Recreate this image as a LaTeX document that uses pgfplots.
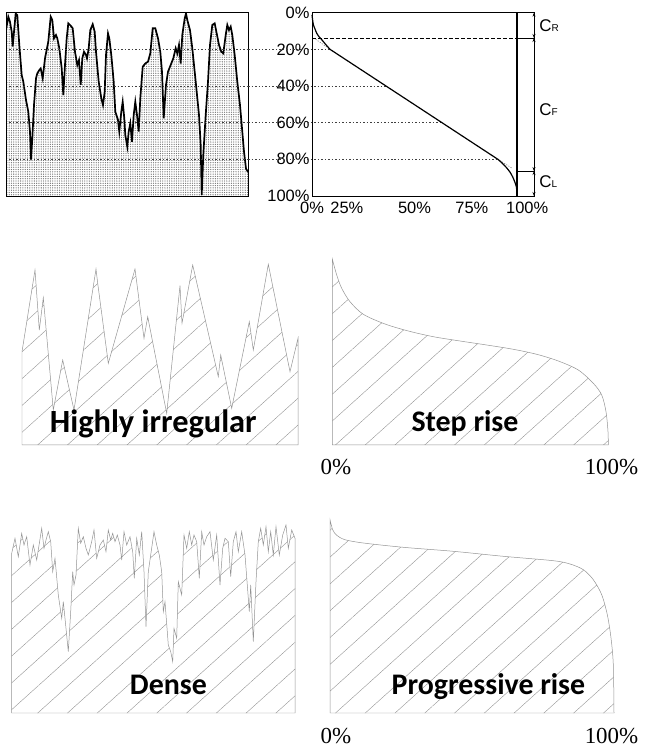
\documentclass[border=0pt]{standalone}
\usepackage{fontspec}
\newfontfamily\arialf{Liberation Sans}
\newfontfamily\calibrif{Carlito}
\newfontfamily\timesf{Liberation Serif}
\usepackage{pgfplots}
\pgfplotsset{compat=1.18}
\usetikzlibrary{patterns.meta,arrows.meta}

\pgfplotsset{
  panel/.style={scale only axis, axis lines=none, clip=false},
  hatch/.style={draw=gray!85, line width=0.5pt,
    pattern={Lines[angle=42,distance=20pt,line width=0.4pt]}, pattern color=gray!85},
}
\tikzset{
  big/.style={font=\calibrif\bfseries\fontsize{30}{36}\selectfont, anchor=base},
  pct/.style={font=\timesf\fontsize{23}{26}\selectfont, anchor=base},
}

\begin{document}
\begin{tikzpicture}
\useasboundingbox (0,0) rectangle (648bp,747bp);

% ---- top left: load profile
\begin{axis}[scale only axis, at={(6bp,551bp)}, width=242bp, height=183.3bp,
  xmin=6, xmax=248, ymin=0, ymax=100, axis on top,
  axis line style={line width=0.9pt},
  xtick=\empty, ytick={20,40,60,80}, yticklabels={}, major tick length=0pt,
  ymajorgrids, grid style={black!75, line width=0.8pt, dash pattern=on 1.5pt off 2pt}]
\addplot[draw=none, pattern={Dots[distance=2.3pt,radius=0.65pt]}, pattern color=black!55] coordinates {
(6,90.5) (8.3,97.8) (10,95) (11.7,89.6) (12.7,81.5) (14,89.6) (15.7,99.6) (17.3,98.7) (19.3,82.4) (21.7,66) (23.3,62.4) (26,52.4) (28.3,46) (30,35) (31,19.6) (32.3,31.5) (34,49.6) (36,64.2) (37.3,66.9) (39.3,68.7) (40.7,69.6) (42.7,64.2) (45,75.1) (48.3,84.2) (50.7,97.8) (52.3,96) (54,86) (56,87.8) (57.3,86) (59.3,80.6) (61.7,69.7) (63.3,55.1) (65,71.5) (66.7,86) (68.3,94.2) (70.7,92.9) (72.7,91.5) (75,78.7) (77.3,71.4) (79,74.2) (80.7,60.6) (82.3,75.1) (84,78.7) (86,76.9) (87,75.1) (88.7,80.6) (90.3,90.5) (92.7,93.7) (94.7,89.6) (96,78.7) (98.7,62.4) (101.3,53.3) (103,49.6) (104.7,56.9) (106,76.9) (108,88.7) (109.3,86) (111.3,76.9) (113.7,62.4) (115.3,46) (118,41.5) (119.3,35.1) (121.3,46) (122.7,51.4) (124.3,42.4) (125.3,33.3) (127.3,26.9) (128.7,35.1) (130.3,39.7) (132,29.6) (133.7,44.2) (135.3,51.4) (137,44.2) (138.7,35.1) (140.3,53.3) (142.7,70.5) (145.3,72.3) (148,73.3) (150.3,77.8) (152.7,91.5) (155.3,91.5) (158,86) (160.3,78.7) (162,67.8) (163.7,42.4) (166,60.6) (168,67.8) (170.7,71.5) (173.3,75.1) (175.7,80.6) (177.3,77.8) (179,82.4) (180.7,72.3) (182.3,87.8) (184.7,96.9) (186,99.6) (187.3,96) (190,90.5) (192.3,80.6) (195.7,62.4) (199,44.2) (200.7,27.8) (201.7,0.5) (203.3,22.4) (205.7,44.2) (208,62.4) (210,82.4) (212.3,93.3) (214.7,94.2) (216.7,88.7) (219,82.4) (221.3,78.7) (223.3,77.8) (225.7,87.8) (227.3,93.3) (229,90.5) (230.7,92.4) (232.3,87.8) (234.7,76.9) (237.3,62.4) (240,49.6) (242.3,35.1) (244,24.2) (246,15) (248,13)
} \closedcycle;
\addplot[black, line width=1.7pt] coordinates {
(6,90.5) (8.3,97.8) (10,95) (11.7,89.6) (12.7,81.5) (14,89.6) (15.7,99.6) (17.3,98.7) (19.3,82.4) (21.7,66) (23.3,62.4) (26,52.4) (28.3,46) (30,35) (31,19.6) (32.3,31.5) (34,49.6) (36,64.2) (37.3,66.9) (39.3,68.7) (40.7,69.6) (42.7,64.2) (45,75.1) (48.3,84.2) (50.7,97.8) (52.3,96) (54,86) (56,87.8) (57.3,86) (59.3,80.6) (61.7,69.7) (63.3,55.1) (65,71.5) (66.7,86) (68.3,94.2) (70.7,92.9) (72.7,91.5) (75,78.7) (77.3,71.4) (79,74.2) (80.7,60.6) (82.3,75.1) (84,78.7) (86,76.9) (87,75.1) (88.7,80.6) (90.3,90.5) (92.7,93.7) (94.7,89.6) (96,78.7) (98.7,62.4) (101.3,53.3) (103,49.6) (104.7,56.9) (106,76.9) (108,88.7) (109.3,86) (111.3,76.9) (113.7,62.4) (115.3,46) (118,41.5) (119.3,35.1) (121.3,46) (122.7,51.4) (124.3,42.4) (125.3,33.3) (127.3,26.9) (128.7,35.1) (130.3,39.7) (132,29.6) (133.7,44.2) (135.3,51.4) (137,44.2) (138.7,35.1) (140.3,53.3) (142.7,70.5) (145.3,72.3) (148,73.3) (150.3,77.8) (152.7,91.5) (155.3,91.5) (158,86) (160.3,78.7) (162,67.8) (163.7,42.4) (166,60.6) (168,67.8) (170.7,71.5) (173.3,75.1) (175.7,80.6) (177.3,77.8) (179,82.4) (180.7,72.3) (182.3,87.8) (184.7,96.9) (186,99.6) (187.3,96) (190,90.5) (192.3,80.6) (195.7,62.4) (199,44.2) (200.7,27.8) (201.7,0.5) (203.3,22.4) (205.7,44.2) (208,62.4) (210,82.4) (212.3,93.3) (214.7,94.2) (216.7,88.7) (219,82.4) (221.3,78.7) (223.3,77.8) (225.7,87.8) (227.3,93.3) (229,90.5) (230.7,92.4) (232.3,87.8) (234.7,76.9) (237.3,62.4) (240,49.6) (242.3,35.1) (244,24.2) (246,15) (248,13)
};
\end{axis}

% ---- top right: duration curve
\begin{axis}[scale only axis, at={(312bp,551bp)}, width=222bp, height=183.3bp,
  xmin=0, xmax=108.3, ymin=0, ymax=100, clip=false,
  axis line style={line width=0.9pt},
  xtick={0,17,50,78,105}, xticklabels={0\%,25\%,50\%,75\%,100\%},
  ytick={0,20,40,60,80,100}, yticklabels={100\%,80\%,60\%,40\%,20\%,0\%},
  major tick length=0pt,
  tick label style={font=\arialf\fontsize{16.5}{16.5}\selectfont},
  xticklabel style={yshift=-3bp}, yticklabel style={xshift=1bp}]
\addplot[black!75, line width=0.8pt, dash pattern=on 1.5pt off 2pt] coordinates {(-31.2,80) (8.8,80)};
\addplot[black!75, line width=0.8pt, dash pattern=on 1.5pt off 2pt] coordinates {(-31.2,60) (36.1,60)};
\addplot[black!75, line width=0.8pt, dash pattern=on 1.5pt off 2pt] coordinates {(-31.2,40) (63.4,40)};
\addplot[black!75, line width=0.8pt, dash pattern=on 1.5pt off 2pt] coordinates {(-31.2,20) (90.7,20)};
\addplot[black!60, line width=0.6pt, dash pattern=on 1pt off 1.5pt] coordinates {(1.8,85.5) (8.8,80)};
\addplot[black!60, line width=0.6pt, dash pattern=on 1pt off 1.5pt] coordinates {(90.7,20) (97.7,15.1)};
\addplot[black, line width=0.6pt, dash pattern=on 4pt off 2pt] coordinates {(0,86.2) (100,86.2)};
\addplot[black, line width=0.6pt] coordinates {(100,86.2) (108.3,86.2)};
\addplot[black, line width=0.6pt] coordinates {(100,13.6) (108.3,13.6)};
\addplot[black, line width=1.2pt] coordinates {(100,0) (100,100)};
\addplot[black, line width=1.2pt, smooth, tension=0.4] coordinates {
(0,98.8) (0.3,96) (0.7,93.3) (1.5,91) (2.3,88.8) (3.5,86.8) (4.9,85.1) (6.8,82.5) (8.8,80)};
\addplot[black, line width=1.2pt] coordinates {(8.8,80) (90.7,20)};
\addplot[black, line width=1.2pt, smooth, tension=0.4] coordinates {
(90.7,20) (93,17.7) (95,15.3) (96.6,13) (97.9,10.4) (99,7.5) (99.7,5) (100,2) (100,0)};
\draw[{Stealth[length=4pt,width=3pt]}-{Stealth[length=4pt,width=3pt]}, line width=0.7pt] (axis cs:108.3,100) -- (axis cs:108.3,86.2);
\draw[{Stealth[length=4pt,width=3pt]}-{Stealth[length=4pt,width=3pt]}, line width=0.7pt] (axis cs:108.3,86.2) -- (axis cs:108.3,13.6);
\draw[{Stealth[length=4pt,width=3pt]}-{Stealth[length=4pt,width=3pt]}, line width=0.7pt] (axis cs:108.3,13.6) -- (axis cs:108.3,0);
\node[anchor=west, font=\arialf\fontsize{17}{17}\selectfont, inner sep=0pt] at (axis cs:110.8,92.7) {C{\fontsize{10}{10}\selectfont R}};
\node[anchor=west, font=\arialf\fontsize{17}{17}\selectfont, inner sep=0pt] at (axis cs:110.8,46.9) {C{\fontsize{10}{10}\selectfont F}};
\node[anchor=west, font=\arialf\fontsize{17}{17}\selectfont, inner sep=0pt] at (axis cs:110.8,7.6) {C{\fontsize{10}{10}\selectfont L}};
\end{axis}

% ---- middle left: highly irregular
\begin{axis}[panel, at={(22bp,302bp)}, width=276bp, height=190bp,
  xmin=22, xmax=298, ymin=0, ymax=190]
\addplot[hatch] coordinates {
(22,93.3) (35,175) (39.3,115) (43.3,147.3) (53.3,35) (62.7,85) (74,35) (96,176) (97.7,161.7) (108.3,81.7) (135,176) (144,106.7) (147.7,128.3) (166.7,31.7) (180,159.3) (182,121.7) (192.7,180) (218.3,68.3) (220.7,90) (231.7,36.7) (249.3,123.3) (253.3,95) (268.3,180.7) (290,73.3) (298,106.7)
} \closedcycle;
\end{axis}

% ---- middle right: step rise
\begin{axis}[panel, at={(332bp,302bp)}, width=276.3bp, height=190bp,
  xmin=332, xmax=608.3, ymin=0, ymax=190]
\addplot[hatch, smooth, tension=0.5] coordinates {
(332.3,186) (336.7,170) (341.7,156.7) (350,143.3) (363.3,130.7) (385,121) (408.3,114) (433.3,108.3) (460,104) (486.7,100) (513.3,95.7) (536.7,90.7) (558.3,84) (578.3,75) (593.3,61.7) (601.7,50) (606,33.3) (608,13.3) (608.3,0)
} \closedcycle;
\end{axis}

% ---- bottom left: dense
\begin{axis}[panel, at={(11.6bp,34bp)}, width=283.9bp, height=208bp,
  xmin=11.6, xmax=295.5, ymin=0, ymax=208]
\addplot[hatch] coordinates {
(11.7,159.7) (15,174.7) (18.3,156.3) (21.7,179.7) (24,168) (26.7,176.3) (30,148) (33.3,168) (36.7,153) (41.7,184.7) (44,164.7) (46,173) (48.3,181.3) (50.7,171.3) (52.7,141.3) (55,154.7) (58.3,118) (61.7,94.7) (63.3,111.3) (65,94.7) (68.3,61.3) (70.7,101.3) (72.7,141.3) (74,128) (76,138) (78.3,184.7) (80.7,169.7) (83.3,176.3) (86,164.7) (88.3,158) (91.7,171.3) (94,183) (96.7,154.7) (100,168) (103.3,173) (106,161.3) (108.3,183) (110.7,173) (112.7,179.7) (115,171.3) (117.3,178) (120,168) (121.7,153) (124,181.3) (126.7,168) (130,176.3) (132.7,161.3) (134.3,134.7) (136.7,174.7) (139.3,158) (141.7,181.3) (144,141.3) (146,86.3) (148.3,141.3) (150.7,158) (154,181.3) (156.7,168) (159.3,158) (161.7,141.3) (163.3,101.3) (165,111.3) (168.3,68) (170.7,61.3) (172.7,51.3) (174,84.7) (176.7,74.7) (178.3,131.3) (181.7,118) (184,178) (186.7,164.7) (189.3,181.3) (191.7,168) (194,178) (196.7,171.3) (199.3,134.7) (201.7,181.3) (204,168) (206.7,176.3) (210,181.3) (213.3,153) (216.7,178) (220,128) (222.7,164.7) (225,174.7) (228.3,171.3) (230.7,136.3) (233.3,171.3) (236,181.3) (238.3,161.3) (241.7,181.3) (245,158) (247.3,128) (249.3,101.3) (250.7,128) (253.3,71.3) (256,131.3) (258.3,171.3) (260.7,184.7) (263.3,168) (266,186.3) (268.3,161.3) (270.7,181.3) (273.3,158) (276,186.3) (279.3,158) (282.7,178) (286,188) (288.3,164.7) (291.7,183) (295,174.7)
} \closedcycle;
\end{axis}

% ---- bottom right: progressive rise
\begin{axis}[panel, at={(330bp,34bp)}, width=284bp, height=208.3bp,
  xmin=330, xmax=614, ymin=0, ymax=208.3]
\addplot[hatch, smooth, tension=0.5] coordinates {
(330,193.3) (332.7,183.3) (336.7,177.7) (345,173.3) (363.3,170) (403.3,165.7) (453.3,161.7) (503.3,156.7) (553.3,152.3) (570,149) (583.3,143.3) (593.3,133.3) (601.7,118.3) (607.3,98.3) (611,75) (613.3,48.3) (614,0)
} \closedcycle;
\end{axis}

\node[big, font=\calibrif\bfseries\fontsize{32.5}{36}\selectfont] at (153.3bp,314bp) {Highly irregular};
\node[big] at (465bp,315bp) {Step rise};
\node[big] at (168.4bp,52bp) {Dense};
\node[big] at (488.5bp,52bp) {Progressive rise};
\node[pct] at (336bp,272bp) {0\%};
\node[pct] at (611.5bp,272bp) {100\%};
\node[pct] at (336bp,4bp) {0\%};
\node[pct] at (611.5bp,4bp) {100\%};
\end{tikzpicture}
\end{document}
